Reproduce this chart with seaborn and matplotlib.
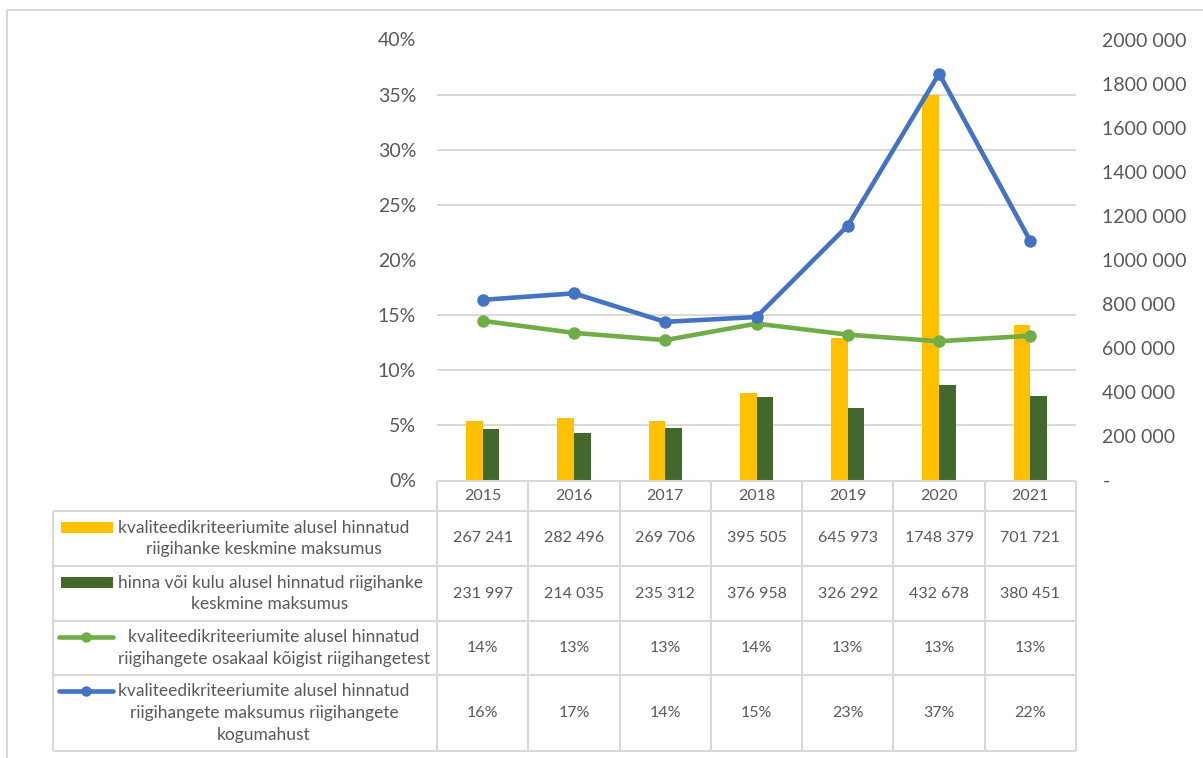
import numpy as np
import pandas as pd
import matplotlib
matplotlib.use("Agg")
import matplotlib.pyplot as plt
from matplotlib.patches import Rectangle
from matplotlib.ticker import FuncFormatter, MultipleLocator
import seaborn as sns

# ---- data -------------------------------------------------------------
years = ["2015", "2016", "2017", "2018", "2019", "2020", "2021"]
avg_cost_quality = [267241, 282496, 269706, 395505, 645973, 1748379, 701721]
avg_cost_price = [231997, 214035, 235312, 376958, 326292, 432678, 380451]
share_quality_count = [14.45, 13.36, 12.7, 14.2, 13.2, 12.6, 13.1]      # %
share_quality_value = [16.36, 16.95, 14.36, 14.8, 23.1, 36.9, 21.7]     # %

series_names = [
    "kvaliteedikriteeriumite alusel hinnatud\nriigihanke keskmine maksumus",
    "hinna või kulu alusel hinnatud riigihanke\nkeskmine maksumus",
    "kvaliteedikriteeriumite alusel hinnatud\nriigihangete osakaal kõigist riigihangetest",
    "kvaliteedikriteeriumite alusel hinnatud\nriigihangete maksumus riigihangete\nkogumahust",
]

# ---- style ------------------------------------------------------------
YELLOW = "#FFC000"
DKGREEN = "#43682B"
LTGREEN = "#70AD47"
BLUE = "#4472C4"
GRID = "#D9D9D9"
TXT = "#595959"

sns.set_theme(style="white")
plt.rcParams["font.family"] = ["Lato", "DejaVu Sans"]

W, H = 1203, 758
fig = plt.figure(figsize=(W / 100, H / 100), dpi=100)
fig.patch.set_facecolor("white")

# plot area in pixels: x 437..1076, y 39.5..480
L, R, T, B = 437, 1076, 39.5, 480
ax_bar = fig.add_axes([L / W, 1 - B / H, (R - L) / W, (B - T) / H])

# ---- bars on the value axis (right) ----------------------------------
df_bars = pd.DataFrame({
    "aasta": years * 2,
    "maksumus": avg_cost_quality + avg_cost_price,
    "seeria": [series_names[0]] * len(years) + [series_names[1]] * len(years),
})
sns.barplot(data=df_bars, x="aasta", y="maksumus", hue="seeria",
            palette=[YELLOW, DKGREEN], width=0.365, gap=0, saturation=1,
            errorbar=None, legend=False, linewidth=0, ax=ax_bar)
ax_bar.set_ylim(0, 2_000_000)
ax_bar.set_xlim(-0.5, len(years) - 0.5)


def fmt_money(v, _pos=None):
    v = int(round(v))
    if v == 0:
        return "-"
    return f"{v // 1000} {v % 1000:03d}"


# ---- lines on the share axis (left) ----------------------------------
ax_line = ax_bar.twinx()
for vals, col in [(share_quality_count, LTGREEN), (share_quality_value, BLUE)]:
    sns.pointplot(x=years, y=vals, color=col, markers="o", linestyles="-",
                  errorbar=None, linewidth=3.3, markersize=9,
                  markeredgewidth=0, ax=ax_line)
ax_line.set_ylim(0, 40)
ax_line.set_xlim(-0.5, len(years) - 0.5)

# value axis on the right
ax_bar.yaxis.tick_right()
ax_bar.yaxis.set_label_position("right")
ax_bar.yaxis.set_major_locator(MultipleLocator(200_000))
ax_bar.yaxis.set_major_formatter(FuncFormatter(fmt_money))
# gridlines follow the 5 % steps of the share axis
ax_bar.yaxis.set_minor_locator(MultipleLocator(250_000))
ax_bar.grid(False)
ax_bar.grid(which="minor", axis="y", color=GRID, linewidth=1.4)
ax_bar.set_axisbelow(True)
ax_bar.tick_params(axis="y", which="both", length=0, labelsize=14,
                   labelcolor=TXT, pad=19, left=False, right=False,
                   labelleft=False, labelright=True)
ax_bar.tick_params(axis="x", bottom=False, labelbottom=False)
ax_bar.set_xlabel("")
ax_bar.set_ylabel("")
for s in ax_bar.spines.values():
    s.set_visible(False)

# share axis on the left
ax_line.yaxis.tick_left()
ax_line.yaxis.set_label_position("left")
ax_line.yaxis.set_major_locator(MultipleLocator(5))
ax_line.yaxis.set_major_formatter(FuncFormatter(lambda v, p: f"{v:.0f}%"))
ax_line.tick_params(axis="y", length=0, labelsize=14, labelcolor=TXT, pad=15,
                    left=False, right=False, labelleft=True, labelright=False)
ax_line.tick_params(axis="x", bottom=False, labelbottom=False)
ax_line.set_xlabel("")
ax_line.set_ylabel("")
ax_line.grid(False)
for s in ax_line.spines.values():
    s.set_visible(False)

# ---- data table under the chart --------------------------------------
tab = fig.add_axes([0, 0, 1, 1])
tab.set_autoscale_on(False)
tab.set_xlim(0, W)
tab.set_ylim(H, 0)
tab.axis("off")


def col_x(pos):
    """Horizontal pixel position of a category coordinate."""
    return ax_bar.transData.transform((pos, 0))[0]


centers = [col_x(i) for i in range(len(years))]
edges = [col_x(i - 0.5) for i in range(len(years) + 1)]

LBL_LEFT = 53
header_top, header_bot = 481, 511
row_bounds = [511, 566, 621, 675, 751]
line_kw = dict(color=GRID, linewidth=1.5, solid_capstyle="butt")

# frame of the chart object
tab.plot([7, 7], [10, H], **line_kw)
tab.plot([7, W], [10, 10], **line_kw)

# grid of the table
tab.plot([edges[0], edges[-1]], [header_top, header_top], **line_kw)
for yb in row_bounds:
    tab.plot([LBL_LEFT, edges[-1]], [yb, yb], **line_kw)
for xe in edges:
    tab.plot([xe, xe], [header_top, row_bounds[-1]], **line_kw)
tab.plot([LBL_LEFT, LBL_LEFT], [row_bounds[0], row_bounds[-1]], **line_kw)

# header with years
for xc, yr in zip(centers, years):
    tab.text(xc, (header_top + header_bot) / 2, yr, ha="center", va="center",
             fontsize=11.5, color=TXT)

# rows: legend key, series label and values
row_values = [
    [fmt_money(v) for v in avg_cost_quality],
    [fmt_money(v) for v in avg_cost_price],
    [f"{v:.0f}%" for v in share_quality_count],
    [f"{v:.0f}%" for v in share_quality_value],
]
label_cx = [264, 270, 274, 264]
LINE_STEP = 22.5
for r in range(4):
    y0, y1 = row_bounds[r], row_bounds[r + 1]
    yc = (y0 + y1) / 2
    nlines = series_names[r].count("\n") + 1
    ky = yc - (nlines - 1) / 2 * LINE_STEP
    if r < 2:
        tab.add_patch(Rectangle((61, ky - 5.5), 52, 11,
                                color=[YELLOW, DKGREEN][r], lw=0))
    else:
        col = [LTGREEN, BLUE][r - 2]
        tab.plot([59, 113], [ky, ky], color=col, lw=3.3,
                 solid_capstyle="round")
        tab.plot([86], [ky], marker="o", color=col, ms=7.5, mew=0)
    tab.text(label_cx[r], yc, series_names[r], ha="center", va="center",
             fontsize=12.5, color=TXT, linespacing=1.45)
    for xc, val in zip(centers, row_values[r]):
        tab.text(xc, yc, val, ha="center", va="center", fontsize=11.5,
                 color=TXT)

fig.savefig("out.png", dpi=100, facecolor="white")
